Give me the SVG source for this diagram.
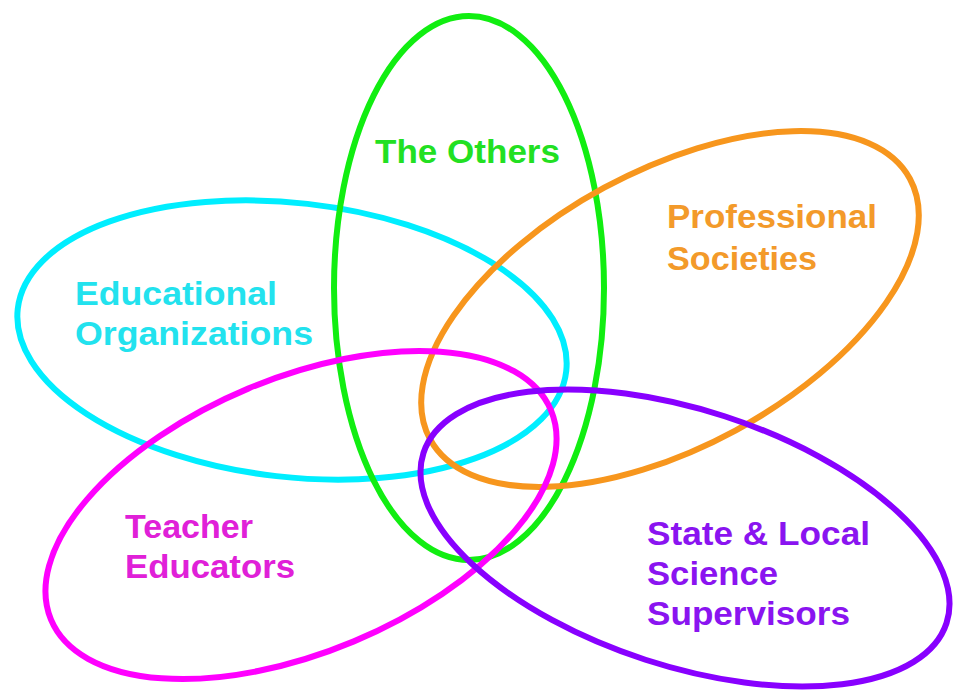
<svg xmlns="http://www.w3.org/2000/svg" width="961" height="697" viewBox="0 0 961 697">
<style>
.ring{fill:none;stroke-width:6}
.lbl{font-family:"Liberation Sans",Arial,sans-serif;font-weight:bold;font-size:33px}
</style>
<rect width="961" height="697" fill="#ffffff"/>
<g id="connectors"/>
<g id="educational">
<ellipse class="ring" cx="292" cy="340" rx="276" ry="137" transform="rotate(6.5 292 340)" stroke="#00eeff"/>
<text class="lbl" fill="#22e2ee"><tspan x="75" y="305" textLength="202" lengthAdjust="spacingAndGlyphs">Educational</tspan><tspan x="75" y="345" textLength="238" lengthAdjust="spacingAndGlyphs">Organizations</tspan></text>
</g>
<g id="others">
<ellipse class="ring" cx="469" cy="288" rx="135" ry="272" stroke="#11ee11"/>
<text class="lbl" fill="#22e022" x="375" y="163" textLength="185" lengthAdjust="spacingAndGlyphs">The Others</text>
</g>
<g id="professional">
<ellipse class="ring" cx="670" cy="309" rx="273" ry="138" transform="rotate(-28.5 670 309)" stroke="#f7961d"/>
<text class="lbl" fill="#f39a2a"><tspan x="667" y="228" textLength="210" lengthAdjust="spacingAndGlyphs">Professional</tspan><tspan x="667" y="270" textLength="150" lengthAdjust="spacingAndGlyphs">Societies</tspan></text>
</g>
<g id="teacher">
<ellipse class="ring" cx="301" cy="515" rx="271" ry="137" transform="rotate(-22.7 301 515)" stroke="#ff00ff"/>
<text class="lbl" fill="#e020d8"><tspan x="125" y="538" textLength="128" lengthAdjust="spacingAndGlyphs">Teacher</tspan><tspan x="125" y="578" textLength="170" lengthAdjust="spacingAndGlyphs">Educators</tspan></text>
</g>
<g id="state">
<ellipse class="ring" cx="685" cy="538" rx="275" ry="128" transform="rotate(18 685 538)" stroke="#8800ff"/>
<text class="lbl" fill="#8a14f0"><tspan x="647" y="545" textLength="223" lengthAdjust="spacingAndGlyphs">State &amp; Local</tspan><tspan x="647" y="585" textLength="131" lengthAdjust="spacingAndGlyphs">Science</tspan><tspan x="647" y="625" textLength="203" lengthAdjust="spacingAndGlyphs">Supervisors</tspan></text>
</g>
</svg>
